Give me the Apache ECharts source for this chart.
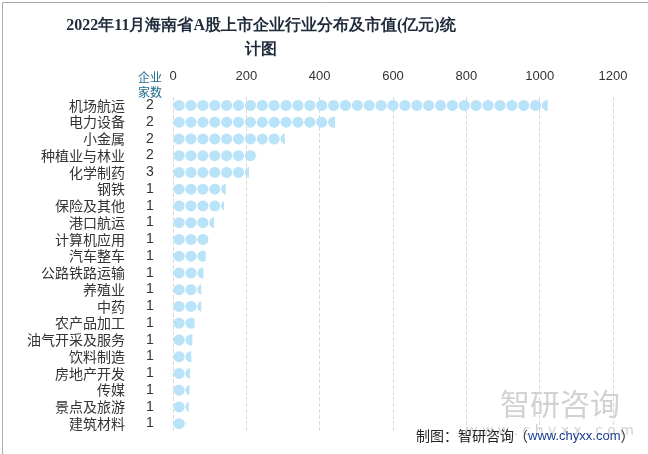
<!DOCTYPE html>
<html>
<head>
<meta charset="utf-8">
<script src="https://cdn.jsdelivr.net/npm/echarts@6/dist/echarts.min.js"></script>
<style>html,body{margin:0;padding:0;background:#fff;}#c{width:648px;height:454px;}</style>
</head>
<body>
<div id="c"></div>
<script>
var categories = ['机场航运','电力设备','小金属','种植业与林业','化学制药','钢铁','保险及其他','港口航运','计算机应用','汽车整车','公路铁路运输','养殖业','中药','农产品加工','油气开采及服务','饮料制造','房地产开发','传媒','景点及旅游','建筑材料'];
var counts = [2,2,2,2,3,1,1,1,1,1,1,1,1,1,1,1,1,1,1,1];
var values = [1022,442,305,229,207,144,139,112,98,89,83,77,77,59,53,50,46,45,43,36];
var xTicks = [0,200,400,600,800,1000,1200];

var chart = echarts.init(document.getElementById('c'));
chart.setOption({
  backgroundColor: '#fff',
  animation: false,
  title: [{
    text: '企业\n家数',
    left: 133, top: 65,
    textStyle: {fontFamily: 'Noto Sans CJK SC', fontWeight: 'normal', fontSize: 12, color: '#1e6a8c', lineHeight: 15}
  }],
  grid: {left: 173, right: 35, top: 97, bottom: 22},
  xAxis: {
    type: 'value', position: 'top', min: 0, max: 1200, interval: 200,
    axisLine: {show: false}, axisTick: {show: false},
    axisLabel: {color: '#333', fontSize: 13, margin: 14, formatter: function (v) { return xTicks.indexOf(v) >= 0 ? String(v) : ''; }},
    splitLine: {show: true, lineStyle: {type: 'dashed', color: '#d9d9d9'}}
  },
  yAxis: [{
    type: 'category', inverse: true, data: categories,
    axisLine: {show: false}, axisTick: {show: false},
    axisLabel: {interval: 0, color: '#333', fontSize: 14, margin: 48, fontFamily: 'Noto Sans CJK SC'}
  }, {
    type: 'category', inverse: true, position: 'left', data: counts.map(String),
    axisLine: {show: false}, axisTick: {show: false},
    axisLabel: {interval: 0, color: '#333', fontSize: 14, margin: 23, align: 'center'}
  }],
  series: [{
    type: 'pictorialBar',
    yAxisIndex: 0,
    data: values,
    symbol: 'circle',
    symbolSize: [11, 11],
    symbolRepeat: true,
    symbolMargin: 0,
    symbolClip: true,
    symbolBoundingData: 1200,
    itemStyle: {color: '#b9e3f8', borderColor: '#5dbde9', borderWidth: 1.2}
  }],
  graphic: [{
    type: 'rect', left: 0, top: 0, silent: true,
    shape: {x: 0.5, y: 0.5, width: 646, height: 452},
    style: {fill: 'none', stroke: '#aaaaaa', lineWidth: 1}
  }, {
    type: 'text', x: 261, y: 14, silent: true,
    style: {
      text: '2022年11月海南省A股上市企业行业分布及市值(亿元)统\n计图',
      textAlign: 'center', fill: '#1f2a3a', font: 'bold 16px serif', lineHeight: 24
    }
  }, {
    type: 'text', left: 500, top: 389, silent: true,
    style: {text: '智研咨询', fill: '#d2d2d2', font: '30px "Noto Sans CJK SC"', letterSpacing: 3}
  }, {
    type: 'text', left: 466, top: 424, silent: true,
    style: {text: 'w w w . c h y x x . c o m', fill: '#d2d2d2', font: '14px "DejaVu Sans"', letterSpacing: 0.5}
  }, {
    type: 'text', left: 416, top: 429, silent: true,
    style: {
      text: '{a|制图：智研咨询（}{b|www.chyxx.com}{a|）}',
      rich: {
        a: {fill: '#222', font: '14px "Noto Sans CJK SC"'},
        b: {fill: '#1a3f8f', font: '13px "Liberation Sans"'}
      }
    }
  }]
});
</script>
</body>
</html>
